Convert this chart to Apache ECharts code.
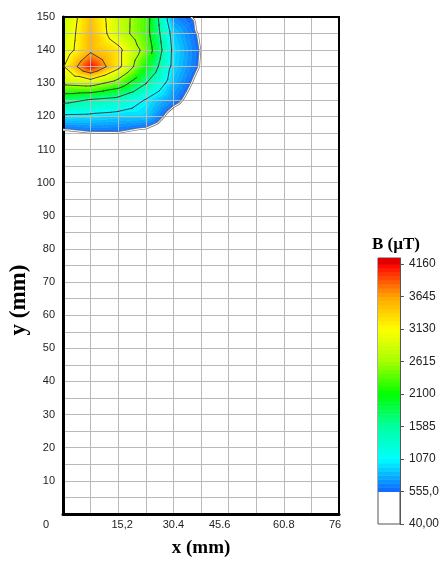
<!DOCTYPE html>
<html>
<head>
<meta charset="utf-8">
<script src="https://cdn.jsdelivr.net/npm/echarts@6/dist/echarts.min.js"></script>
<style>
html, body { margin: 0; padding: 0; background: #fff; }
#main { width: 442px; height: 563px; }
</style>
</head>
<body>
<div id="main"></div>
<script>
// measurement grid (mm)
var xNodes = [0, 7.6, 15.2, 22.8, 30.4, 38.0, 45.6];
var yNodes = [110, 115, 120, 125, 130, 135, 140, 145, 150];
// B (uT), one row per y node, one column per x node
var bField = [
    [150, 200, 220, 180, 120, 80, 40],          // 110
    [450, 540, 545, 420, 250, 150, 50],         // 115
    [1000, 980, 920, 900, 380, 200, 50],        // 120
    [1750, 1560, 1420, 1050, 680, 300, 50],     // 125
    [2720, 2815, 2400, 1600, 850, 400, 80],     // 130
    [3100, 4160, 3250, 2100, 950, 520, 100],    // 135
    [2850, 3550, 3250, 2450, 980, 540, 100],    // 140
    [2780, 3550, 2840, 2300, 900, 500, 80],     // 145
    [2750, 3470, 2840, 2320, 690, 480, 60]      // 150
];

var xTickValues = [0, 15.2, 30.4, 45.6, 60.8, 76];
var xTickLabels = ['0', '15,2', '30.4', '45.6', '60.8', '76'];
var yTickValues = [10, 20, 30, 40, 50, 60, 70, 80, 90, 100, 110, 120, 130, 140, 150];
var cbTickValues = [40, 555, 1070, 1585, 2100, 2615, 3130, 3645, 4160];
var cbTickLabels = ['40,00', '555,0', '1070', '1585', '2100', '2615', '3130', '3645', '4160'];
var contourLevels = [555, 1070, 1585, 2100, 2615, 3130, 3645];

var colorStops = [
    [555, [16, 100, 255]],
    [1070, [0, 255, 255]],
    [1585, [0, 255, 160]],
    [2100, [0, 255, 0]],
    [2615, [165, 255, 0]],
    [3130, [255, 255, 0]],
    [3645, [255, 165, 0]],
    [4160, [255, 0, 0]]
];
var bandStep = 515 / 8;
var cbMax = 4255;

function colorAt(v) {
    if (v <= colorStops[0][0]) return 'rgb(' + colorStops[0][1].join(',') + ')';
    for (var k = 1; k < colorStops.length; k++) {
        if (v <= colorStops[k][0]) {
            var a = colorStops[k - 1], b = colorStops[k];
            var t = (v - a[0]) / (b[0] - a[0]);
            var c = a[1].map(function (x, n) { return Math.round(x + t * (b[1][n] - x)); });
            return 'rgb(' + c.join(',') + ')';
        }
    }
    return 'rgb(' + colorStops[colorStops.length - 1][1].join(',') + ')';
}

function clip(poly, level, above) {
    var out = [];
    for (var i = 0; i < poly.length; i++) {
        var a = poly[i], b = poly[(i + 1) % poly.length];
        var ina = above ? a[2] >= level : a[2] <= level;
        var inb = above ? b[2] >= level : b[2] <= level;
        if (ina) out.push(a);
        if (ina !== inb) {
            var t = (level - a[2]) / (b[2] - a[2]);
            out.push([a[0] + t * (b[0] - a[0]), a[1] + t * (b[1] - a[1]), level]);
        }
    }
    return out;
}

function cellTriangles(i, j) {
    var p00 = [xNodes[i], yNodes[j], bField[j][i]];
    var p10 = [xNodes[i + 1], yNodes[j], bField[j][i + 1]];
    var p11 = [xNodes[i + 1], yNodes[j + 1], bField[j + 1][i + 1]];
    var p01 = [xNodes[i], yNodes[j + 1], bField[j + 1][i]];
    var c = [(p00[0] + p10[0]) / 2, (p00[1] + p01[1]) / 2, (p00[2] + p10[2] + p11[2] + p01[2]) / 4];
    return [[p00, p10, c], [p10, p11, c], [p11, p01, c], [p01, p00, c]];
}

var cells = [];
for (var j = 0; j < yNodes.length - 1; j++) {
    for (var i = 0; i < xNodes.length - 1; i++) {
        cells.push([xNodes[i], yNodes[j], i, j]);
    }
}

function fillItem(params, api) {
    var tris = cellTriangles(api.value(2), api.value(3));
    var children = [];
    tris.forEach(function (tri) {
        var vs = tri.map(function (p) { return p[2]; });
        var vmin = Math.min.apply(null, vs), vmax = Math.max.apply(null, vs);
        for (var lo = 555; lo < 4160; lo += bandStep) {
            var hi = lo + bandStep;
            if (hi <= vmin || lo >= vmax) continue;
            var poly = clip(clip(tri, lo, true), hi, false);
            if (poly.length < 3) continue;
            var pts = poly.map(function (p) { return api.coord([p[0], p[1]]); });
            var col = colorAt(lo + bandStep / 2);
            children.push({ type: 'polygon', shape: { points: pts }, style: { fill: col, stroke: col, lineWidth: 0.6 } });
        }
    });
    return { type: 'group', children: children };
}

function contourItem(params, api) {
    var tris = cellTriangles(api.value(2), api.value(3));
    var children = [];
    tris.forEach(function (tri) {
        contourLevels.forEach(function (L) {
            var pts = [];
            for (var e = 0; e < 3; e++) {
                var a = tri[e], b = tri[(e + 1) % 3];
                if ((a[2] - L) * (b[2] - L) < 0) {
                    var t = (L - a[2]) / (b[2] - a[2]);
                    pts.push(api.coord([a[0] + t * (b[0] - a[0]), a[1] + t * (b[1] - a[1])]));
                }
            }
            if (pts.length !== 2) return;
            var shape = { x1: pts[0][0], y1: pts[0][1], x2: pts[1][0], y2: pts[1][1] };
            if (L === 555) {
                children.push({ type: 'line', shape: shape, style: { stroke: '#777', lineWidth: 2.4 } });
                children.push({ type: 'line', shape: shape, z2: 2, style: { stroke: '#fff', lineWidth: 1 } });
            } else {
                children.push({ type: 'line', shape: shape, style: { stroke: '#333', lineWidth: 0.9, lineCap: 'round' } });
            }
        });
    });
    return { type: 'group', children: children };
}

function colorbarItem(params, api) {
    var children = [];
    for (var lo = 555; lo < 4160; lo += bandStep) {
        var hi = Math.min(lo + bandStep, 4160);
        var p1 = api.coord([0, hi]), p2 = api.coord([1, lo]);
        var col = colorAt(lo + bandStep / 2);
        children.push({ type: 'rect', shape: { x: p1[0], y: p1[1], width: p2[0] - p1[0], height: p2[1] - p1[1] + 0.5 }, style: { fill: col } });
    }
    var c1 = api.coord([0, cbMax]), c2 = api.coord([1, 4160]);
    children.push({ type: 'rect', shape: { x: c1[0], y: c1[1], width: c2[0] - c1[0], height: c2[1] - c1[1] + 0.5 }, style: { fill: '#e00000' } });
    return { type: 'group', children: children };
}

// horizontal nudges of single x tick labels, in px (rich padding)
var xShift = { '0': -17, '15,2': 4, '45.6': -9, '76': -4 };
var xRich = {};
Object.keys(xShift).forEach(function (s, n) {
    var d = xShift[s];
    xRich['s' + n] = {
        fontFamily: 'Liberation Sans', fontSize: 11, color: '#222',
        padding: d < 0 ? [0, -2 * d, 0, 0] : [0, 0, 0, 2 * d]
    };
});

var myChart = echarts.init(document.getElementById('main'));
var option = {
    backgroundColor: '#fff',
    animation: false,
    grid: [
        { left: 63, top: 17, width: 276, height: 501 },
        { left: 378, top: 258, width: 23, height: 266, show: true, backgroundColor: '#fff', borderColor: '#555', borderWidth: 1 }
    ],
    xAxis: [
        {
            gridIndex: 0, type: 'value', min: 0, max: 76, interval: 7.6, position: 'bottom', z: 3,
            axisLine: { onZero: false, lineStyle: { color: '#000', width: 3 } },
            axisTick: { show: false },
            splitLine: { lineStyle: { color: '#b9b9b9', width: 1 } },
            axisLabel: {
                customValues: xTickValues, margin: 5,
                fontFamily: 'Liberation Sans', fontSize: 11, color: '#222',
                formatter: function (v) {
                    var k = xTickValues.findIndex(function (t) { return Math.abs(t - v) < 1e-6; });
                    var s = k < 0 ? '' : xTickLabels[k];
                    var n = Object.keys(xShift).indexOf(s);
                    return n < 0 ? s : '{s' + n + '|' + s + '}';
                },
                rich: xRich
            },
            name: 'x (mm)', nameLocation: 'middle', nameGap: 25,
            nameTextStyle: { fontFamily: 'Liberation Serif', fontWeight: 'bold', fontSize: 19, color: '#000' }
        },
        {
            gridIndex: 0, type: 'value', min: 0, max: 76, position: 'top', z: 3,
            axisLine: { onZero: false, lineStyle: { color: '#000', width: 2 } },
            axisTick: { show: false }, axisLabel: { show: false }, splitLine: { show: false }
        },
        { gridIndex: 1, type: 'value', min: 0, max: 1, show: false }
    ],
    yAxis: [
        {
            gridIndex: 0, type: 'value', min: 0, max: 150, interval: 5, position: 'left', z: 3,
            axisLine: { onZero: false, lineStyle: { color: '#000', width: 3 } },
            axisTick: { show: false },
            splitLine: { lineStyle: { color: '#b9b9b9', width: 1 } },
            axisLabel: {
                customValues: yTickValues, margin: 8,
                fontFamily: 'Liberation Sans', fontSize: 11, color: '#222'
            }
        },
        {
            gridIndex: 0, type: 'value', min: 0, max: 150, position: 'right', z: 3,
            axisLine: { onZero: false, lineStyle: { color: '#000', width: 2 } },
            axisTick: { show: false }, axisLabel: { show: false }, splitLine: { show: false }
        },
        {
            gridIndex: 1, type: 'value', min: 40, max: cbMax, position: 'right', z: 3,
            axisLine: { show: true, onZero: false, lineStyle: { color: '#555', width: 1 } },
            axisTick: { show: true, length: 4, customValues: cbTickValues, lineStyle: { color: '#555' } },
            splitLine: { show: false },
            axisLabel: {
                customValues: cbTickValues, margin: 9,
                fontFamily: 'Liberation Sans', fontSize: 12, color: '#222',
                formatter: function (v) {
                    var k = cbTickValues.indexOf(v);
                    return k < 0 ? '' : cbTickLabels[k];
                }
            }
        }
    ],
    graphic: [
        {
            type: 'text', x: 19, y: 300, rotation: Math.PI / 2,
            style: { text: 'y (mm)', font: 'bold 23px "Liberation Serif"', fill: '#000', textAlign: 'center', textVerticalAlign: 'middle' }
        },
        {
            type: 'text', x: 396, y: 245,
            style: { text: 'B (\u00b5T)', font: 'bold 17px "Liberation Serif"', fill: '#000', textAlign: 'center', textVerticalAlign: 'middle' }
        }
    ],
    series: [
        {
            name: 'fill', type: 'custom', xAxisIndex: 0, yAxisIndex: 0, z: 2, clip: true,
            renderItem: fillItem, encode: { x: 0, y: 1 }, data: cells, silent: true
        },
        {
            name: 'contours', type: 'custom', xAxisIndex: 0, yAxisIndex: 0, z: 4, clip: true,
            renderItem: contourItem, encode: { x: 0, y: 1 }, data: cells, silent: true
        },
        {
            name: 'colorbar', type: 'custom', xAxisIndex: 2, yAxisIndex: 2, z: 2,
            renderItem: colorbarItem, encode: { x: 0, y: 1 }, data: [[0, 555]], silent: true
        }
    ]
};
myChart.setOption(option);
</script>
</body>
</html>
